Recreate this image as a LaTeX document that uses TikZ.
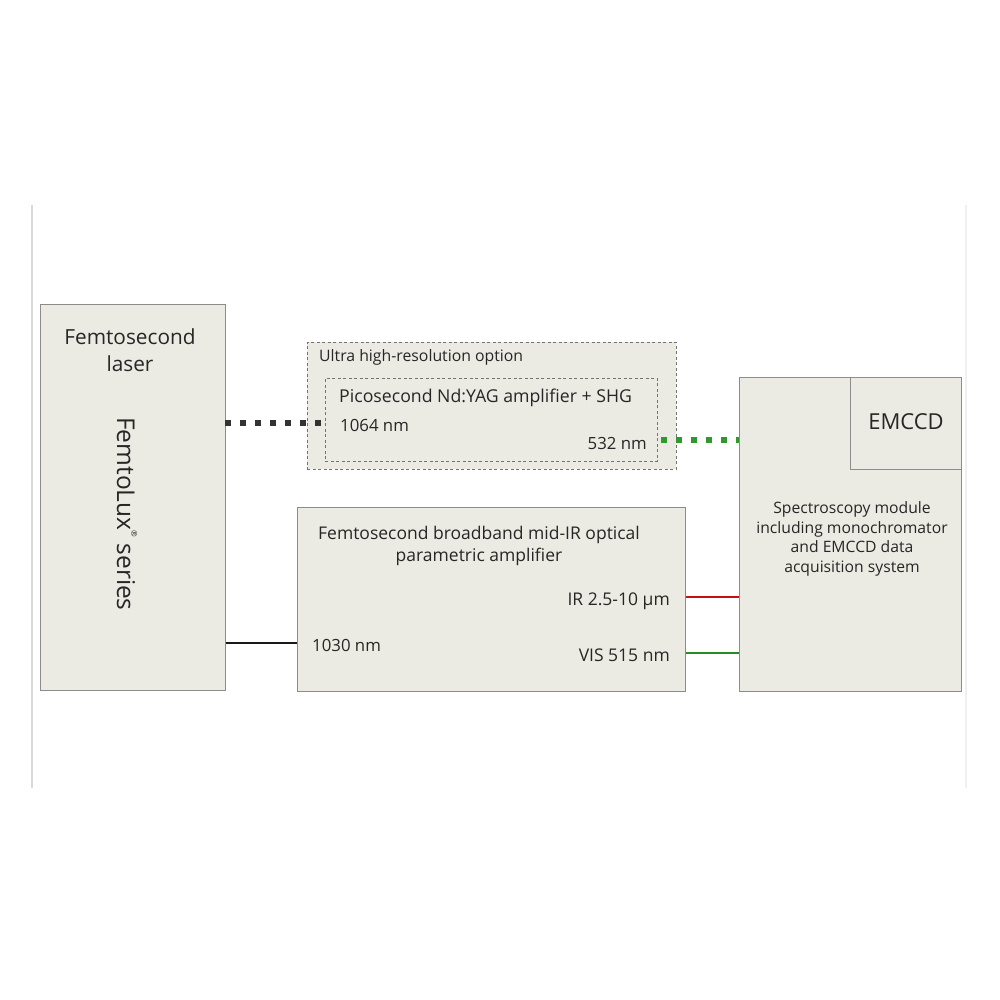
\documentclass[tikz,border=0pt]{standalone}
\usepackage{fontspec}
\setmainfont{Open Sans}
\begin{document}
\begin{tikzpicture}[x=1pt,y=-1pt,
  box/.style={draw=black!45,fill=boxfill,line width=0.8pt,inner sep=0pt,anchor=north west},
  dbox/.style={draw=black!55,fill=boxfill,line width=0.7pt,dash pattern=on 3pt off 2.5pt,inner sep=0pt,anchor=north west},
  lbl/.style={inner sep=0pt,font=\fontsize{16.8}{20}\selectfont,text=black!85},
  dotline/.style={line width=6pt,dash pattern=on 6pt off 9pt},
]
\definecolor{boxfill}{HTML}{ECEBE3}
\definecolor{dgreen}{HTML}{2E9A2E}
\definecolor{lred}{HTML}{C41010}
\definecolor{lgreen}{HTML}{2A8A2A}
\useasboundingbox (0,0) rectangle (1000,1000);
\fill[white] (0,0) rectangle (1000,1000);
\draw[black!15,line width=1.5pt] (32,205) -- (32,788);
\draw[black!6,line width=1.5pt] (966,205) -- (966,788);

% boxes
\node[box,minimum width=185pt,minimum height=386pt] (laser) at (40,304) {};
\node[dbox,minimum width=369pt,minimum height=127pt] (outer) at (307,342) {};
\node[dbox,minimum width=332pt,minimum height=83pt] (inner) at (325,378) {};
\node[box,minimum width=388pt,minimum height=184pt] (opa) at (297,507) {};
\node[box,minimum width=222pt,minimum height=314pt] (spec) at (739,377) {};
\node[box,minimum width=111pt,minimum height=92pt] (emccd) at (850,377) {};

% texts
\node[lbl,font=\fontsize{20.8}{27}\selectfont,align=center] (lasert) at (130,350) {Femtosecond\\laser};
\node[lbl,font=\fontsize{24.5}{28}\selectfont,rotate=-90] (fl) at (127,514) {FemtoLux\raisebox{1.1ex}{\fontsize{8}{8}\selectfont ®} series};
\node[lbl,font=\fontsize{15.8}{18}\selectfont,anchor=west] (ultra) at (319,357) {Ultra high-resolution option};
\node[lbl,font=\fontsize{17.7}{20}\selectfont,anchor=west] (pico) at (339,398) {Picosecond Nd:YAG amplifier + SHG};
\node[lbl,anchor=west] (n1064) at (340,425) {1064 nm};
\node[lbl,anchor=east] (n532) at (647,443) {532 nm};
\node[lbl,align=center,font=\fontsize{17.5}{22}\selectfont] (opat) at (479,546) {Femtosecond broadband mid-IR optical\\parametric amplifier};
\node[lbl,font=\fontsize{17.5}{20}\selectfont,anchor=east] (ir) at (670,601) {IR 2.5-10 µm};
\node[lbl,font=\fontsize{17.5}{20}\selectfont,anchor=east] (vis) at (670,655) {VIS 515 nm};
\node[lbl,anchor=west] (n1030) at (312,645) {1030 nm};
\node[lbl,font=\fontsize{22}{26}\selectfont] (emt) at (906,422) {EMCCD};
\node[lbl,align=center,font=\fontsize{15.7}{19.5}\selectfont] (spect) at (852,539) {Spectroscopy module\\including monochromator\\and EMCCD data\\acquisition system};

% connectors
\coordinate (c1) at (225,423);
\coordinate (c2) at (325,423);
\draw[dotline,black!80] (c1) -- (c2);
\coordinate (g1) at (661,440);
\coordinate (g2) at (739,440);
\draw[dotline,dgreen] (g1) -- (g2);
\draw[lred,line width=1.8pt] (opa.east |- 0,597) -- (spec.west |- 0,597);
\draw[lgreen,line width=1.8pt] (opa.east |- 0,653) -- (spec.west |- 0,653);
\draw[black!90,line width=1.5pt] (laser.east |- 0,643) -- (opa.west |- 0,643);
\end{tikzpicture}
\end{document}
